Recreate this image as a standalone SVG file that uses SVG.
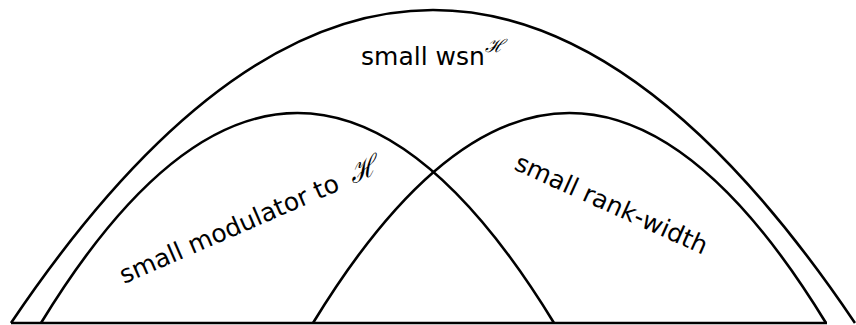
<svg xmlns="http://www.w3.org/2000/svg" width="856" height="325" viewBox="0 0 856 325">
<style>
.c{fill:none;stroke:#000;stroke-width:2.6;stroke-linecap:butt}
.t{font-family:"DejaVu Sans","Liberation Sans",sans-serif;font-size:25px;fill:#000}
.h{font-family:"DejaVu Serif","Liberation Serif",serif;font-style:italic}
</style>
<rect width="856" height="325" fill="#fff"/>
<g id="connectors">
<path class="c" d="M11,323 L827,323"/>
</g>
<g id="wsn">
<path class="c" d="M11,323 Q433,-303 855,323"/>
<text class="t" x="361" y="65">small wsn<tspan class="h" font-size="18" dy="-13">ℋ</tspan></text>
</g>
<g id="modulator">
<path class="c" d="M41,323 Q297.5,-97 554,323"/>
<text class="t" font-size="25.5" transform="translate(124,284) rotate(-23.5)">small modulator to <tspan class="h" font-size="27" dx="5">ℋ</tspan></text>
</g>
<g id="rankwidth">
<path class="c" d="M313,323 Q569.5,-97 826,323"/>
<text class="t" transform="translate(513,169) rotate(24.3)">small rank-width</text>
</g>
</svg>
